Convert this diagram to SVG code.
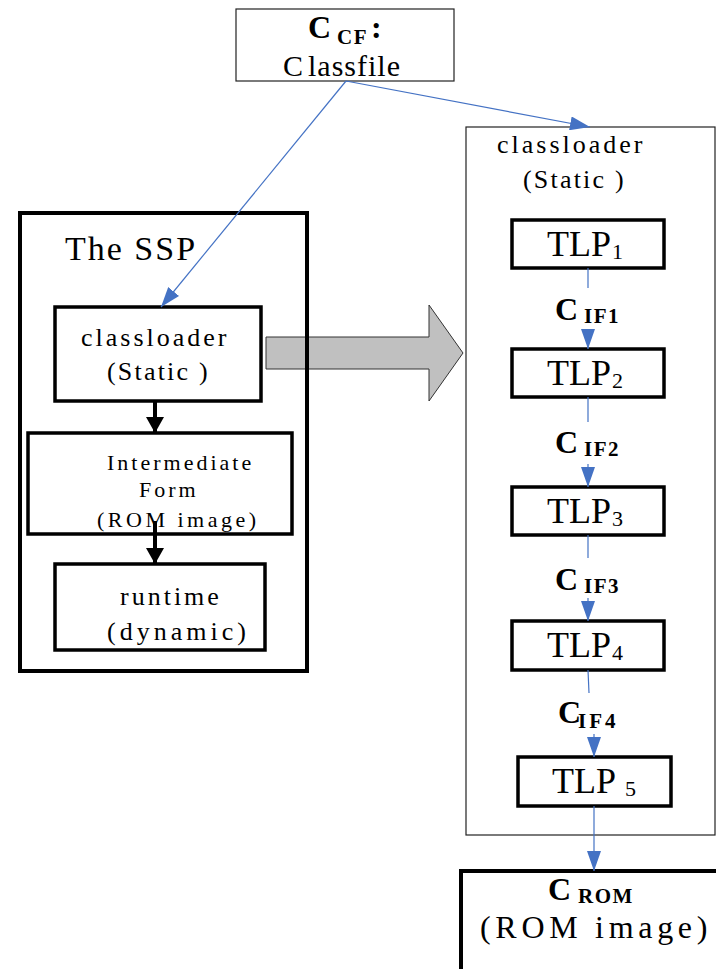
<svg xmlns="http://www.w3.org/2000/svg" width="716" height="969" viewBox="0 0 716 969" font-family="'Liberation Serif', 'Times New Roman', serif">
  <defs>
    <style>
      text, tspan { font-family: "Liberation Serif", "Times New Roman", serif; }
      text { fill: #000; }
      .thin { fill: #fff; stroke: #222; stroke-width: 1.2; }
      .thick { fill: #fff; stroke: #000; stroke-width: 3.5; }
      .blue { stroke: #4472C4; stroke-width: 1.2; fill: none; }
      .blk { stroke: #000; stroke-width: 4; fill: none; }
      .lbl { font-size: 26px; letter-spacing: 3px; }
      .tlp { font-size: 36px; letter-spacing: 0px; }
      .sub { font-size: 22px; }
      .bc { font-size: 32px; font-weight: bold; }
      .bs { font-size: 21px; font-weight: bold; letter-spacing: 1.5px; }
    </style>
    <marker id="ab" viewBox="0 0 20 14" refX="20" refY="7" markerWidth="20" markerHeight="14" markerUnits="userSpaceOnUse" orient="auto">
      <path d="M0,0 L20,7 L0,14 Z" fill="#4472C4"/>
    </marker>
    <marker id="ak" viewBox="0 0 16 18" refX="16" refY="9" markerWidth="16" markerHeight="18" markerUnits="userSpaceOnUse" orient="auto">
      <path d="M0,0 L16,9 L0,18 Z" fill="#000"/>
    </marker>
  </defs>

  <!-- wide grey arrow from the SSP to the expanded classloader -->
  <path id="expand-arrow" d="M266,337 L429,337 L429,305 L463,353 L429,401 L429,369 L266,369 Z" fill="#c0c0c0" stroke="#333" stroke-width="1"/>

  <!-- C_CF classfile -->
  <g id="ccf">
    <rect class="thin" x="236" y="9" width="218" height="72"/>
    <text><tspan class="bc" x="308" y="38">C</tspan><tspan class="bs" x="337" y="44">CF</tspan><tspan class="bc" x="371" y="38">:</tspan></text>
    <text x="283" y="76" style="font-size:30px;letter-spacing:1px">C<tspan dx="4">lassfile</tspan></text>
  </g>

  <!-- The SSP container -->
  <g id="ssp">
    <rect x="20" y="213" width="287" height="458" fill="none" stroke="#000" stroke-width="4"/>
    <text x="65" y="260" style="font-size:34px;letter-spacing:2px">The SSP</text>
  </g>

  <g id="ssp-classloader">
    <rect class="thick" x="55" y="307" width="206" height="94"/>
    <text class="lbl" x="81" y="346">classloader</text>
    <text class="lbl" x="107" y="380" style="letter-spacing:2.2px">(Static )</text>
  </g>

  <g id="intermediate">
    <rect class="thick" x="28" y="433" width="264" height="101"/>
    <text x="107" y="470" style="font-size:22px;letter-spacing:3px">Intermediate</text>
    <text x="139" y="497" style="font-size:22px;letter-spacing:3px">Form</text>
    <text x="97" y="527" style="font-size:22px;letter-spacing:3.5px">(ROM image)</text>
  </g>

  <g id="runtime">
    <rect class="thick" x="55" y="564" width="210" height="86"/>
    <text class="lbl" x="120" y="605">runtime</text>
    <text class="lbl" x="107" y="640" style="letter-spacing:4px">(dynamic)</text>
  </g>

  <!-- expanded classloader -->
  <g id="classloader">
    <rect class="thin" x="466" y="127" width="249" height="708"/>
    <text class="lbl" x="497" y="153">classloader</text>
    <text class="lbl" x="523" y="188" style="letter-spacing:2.2px">(Static )</text>
  </g>

  <g id="tlp1">
    <rect class="thick" x="512" y="220" width="152" height="48"/>
    <text class="tlp" x="547" y="256">TLP<tspan class="sub" x="612" y="259">1</tspan></text>
  </g>
  <g id="tlp2">
    <rect class="thick" x="512" y="349" width="152" height="48"/>
    <text class="tlp" x="547" y="385">TLP<tspan class="sub" x="612" y="388">2</tspan></text>
  </g>
  <g id="tlp3">
    <rect class="thick" x="512" y="487" width="152" height="48"/>
    <text class="tlp" x="547" y="523">TLP<tspan class="sub" x="612" y="526">3</tspan></text>
  </g>
  <g id="tlp4">
    <rect class="thick" x="512" y="621" width="152" height="49"/>
    <text class="tlp" x="547" y="657">TLP<tspan class="sub" x="612" y="660">4</tspan></text>
  </g>
  <g id="tlp5">
    <rect class="thick" x="518" y="757" width="153" height="49"/>
    <text class="tlp" x="552" y="793">TLP<tspan class="sub" x="625" y="796">5</tspan></text>
  </g>

  <!-- ROM image output -->
  <g id="crom">
    <path d="M461,969 L461,871 L716,871" fill="none" stroke="#000" stroke-width="4"/>
    <text><tspan class="bc" x="548" y="900">C</tspan><tspan class="bs" x="578" y="903">ROM</tspan></text>
    <text x="480" y="938" style="font-size:32px;letter-spacing:4.7px">(ROM image)</text>
  </g>

  <!-- connectors -->
  <g id="connectors">
    <line class="blue" x1="346" y1="81" x2="590" y2="127" marker-end="url(#ab)"/>
    <line class="blue" x1="346" y1="81" x2="161" y2="307" marker-end="url(#ab)"/>

    <line class="blk" x1="155" y1="401" x2="155" y2="433" marker-end="url(#ak)"/>
    <line class="blk" x1="155" y1="521" x2="155" y2="564" marker-end="url(#ak)"/>

    <line class="blue" x1="588" y1="268" x2="588" y2="288"/>
    <line class="blue" x1="588" y1="330" x2="588" y2="349" marker-end="url(#ab)"/>
    <text><tspan class="bc" x="555" y="320">C</tspan><tspan class="bs" x="584" y="323">IF1</tspan></text>

    <line class="blue" x1="588" y1="397" x2="588" y2="422"/>
    <line class="blue" x1="588" y1="464" x2="588" y2="487" marker-end="url(#ab)"/>
    <text><tspan class="bc" x="555" y="453">C</tspan><tspan class="bs" x="584" y="456">IF2</tspan></text>

    <line class="blue" x1="588" y1="535" x2="588" y2="558"/>
    <line class="blue" x1="588" y1="598" x2="588" y2="621" marker-end="url(#ab)"/>
    <text><tspan class="bc" x="555" y="590">C</tspan><tspan class="bs" x="584" y="593">IF3</tspan></text>

    <line class="blue" x1="588" y1="670" x2="589" y2="693"/>
    <line class="blue" x1="594" y1="734" x2="594" y2="757" marker-end="url(#ab)"/>
    <text><tspan class="bc" x="558" y="723">C</tspan><tspan class="bs" x="578" y="728" style="letter-spacing:3px">IF4</tspan></text>

    <line class="blue" x1="594" y1="806" x2="594" y2="871" marker-end="url(#ab)"/>
  </g>
</svg>
